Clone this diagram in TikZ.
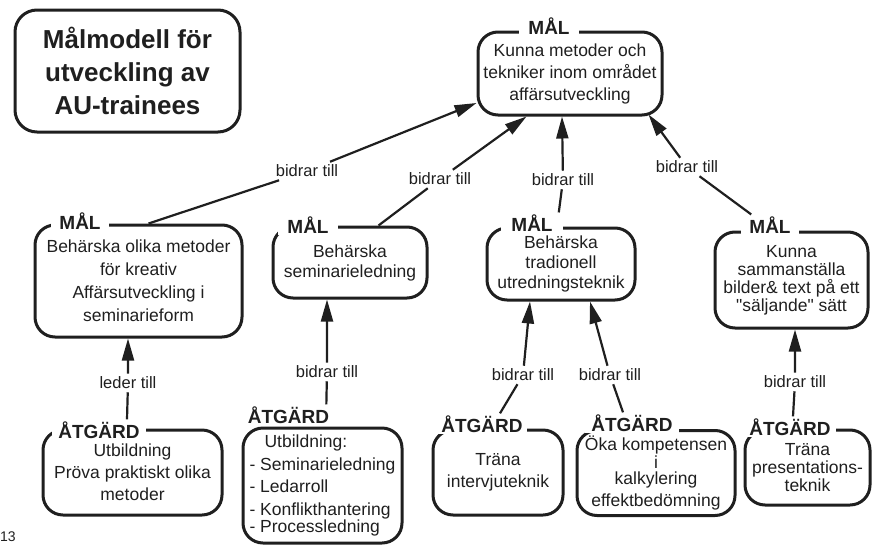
\documentclass[tikz,border=0pt]{standalone}
\usepackage{fontspec}
\setmainfont{Liberation Sans}
\usetikzlibrary{arrows.meta}
\definecolor{ink}{gray}{0.12}
\begin{document}
\begin{tikzpicture}[x=1pt,y=-1pt,
        goalbox/.style={draw=ink,line width=3pt,rounded corners=20pt,align=center,inner sep=0pt,text=ink,font=\fontsize{17.5}{22}\selectfont},
        tagtext/.style={fill=white,inner xsep=8pt,inner ysep=2pt,text=ink,font=\bfseries\fontsize{19}{19}\selectfont},
        reltext/.style={inner sep=3pt,text=ink,font=\fontsize{16.5}{18}\selectfont},
        linkarrow/.style={draw=ink,line width=2.2pt,-{Triangle[length=22pt,width=12pt]}}]
        \useasboundingbox (0,0) rectangle (872,546);
        \node [goalbox,rounded corners=22pt,minimum width=225pt,minimum height=122pt,font=\bfseries\fontsize{26}{33}\selectfont] (title) at (127.5,71) {Målmodell för\\utveckling av\\AU-trainees};
        \node [goalbox,minimum width=184pt,minimum height=83pt] (goal0) at (570,73.5) {Kunna metoder och\\tekniker inom området\\affärsutveckling};
        \node [tagtext,inner xsep=9pt] (goal0tag) at (549,26) {MÅL};
        \node [goalbox,minimum width=207pt,minimum height=112pt,font=\fontsize{17.5}{23}\selectfont] (goal1) at (138.5,281) {Behärska olika metoder\\för kreativ\\Affärsutveckling i\\seminarieform};
        \node [tagtext] (goal1tag) at (80,221) {MÅL};
        \node [goalbox,minimum width=154pt,minimum height=71pt,font=\fontsize{17.5}{20}\selectfont] (goal2) at (350,262.5) {Behärska\\seminarieledning};
        \node [tagtext,inner xsep=9pt] (goal2tag) at (308,225) {MÅL};
        \node [goalbox,minimum width=148pt,minimum height=72pt,font=\fontsize{17.5}{20}\selectfont] (goal3) at (561,264) {Behärska\\tradionell\\utredningsteknik};
        \node [tagtext,inner xsep=10pt] (goal3tag) at (532,223) {MÅL};
        \node [goalbox,minimum width=153pt,minimum height=96pt,font=\fontsize{17.5}{18}\selectfont] (goal4) at (791.5,280) {Kunna\\sammanställa\\bilder\& text på ett\\\textquotedbl säljande\textquotedbl{} sätt};
        \node [tagtext] (goal4tag) at (770,225) {MÅL};
        \node [goalbox,minimum width=179pt,minimum height=85pt] (act1) at (132.5,472.5) {Utbildning\\Pröva praktiskt olika\\metoder};
        \node [tagtext,inner xsep=6pt] (act1tag) at (99,430) {ÅTGÄRD};
        \node [goalbox,minimum width=159pt,minimum height=115pt,align=left,font=\fontsize{17.5}{22.5}\selectfont] (act2) at (322.5,485.5) {\hspace{15pt}Utbildning:\\- Seminarieledning\\- Ledarroll\\- Konflikthantering\\[-5pt]- Processledning};
        \node [tagtext,inner xsep=2pt] (act2tag) at (288.5,415) {ÅTGÄRD};
        \node [goalbox,minimum width=130pt,minimum height=85pt] (act3) at (498,472.5) {Träna\\intervjuteknik};
        \node [tagtext,inner xsep=4pt] (act3tag) at (482,424) {ÅTGÄRD};
        \node [goalbox,minimum width=158pt,minimum height=85pt,font=\fontsize{17.5}{16}\selectfont] (act4) at (656,473) {Öka kompetensen\\i\\kalkylering\\[5pt]effektbedömning};
        \node [tagtext,inner xsep=6pt] (act4tag) at (632,423) {ÅTGÄRD};
        \node [goalbox,minimum width=125pt,minimum height=75pt,font=\fontsize{17.5}{18}\selectfont] (act5) at (807.5,467.5) {Träna\\presentations-\\teknik};
        \node [tagtext,inner xsep=5pt] (act5tag) at (790,427) {ÅTGÄRD};
        \node [reltext] (rel1) at (307,171) {bidrar till};
        \node [reltext] (rel2) at (440,179) {bidrar till};
        \node [reltext] (rel3) at (563,180) {bidrar till};
        \node [reltext] (rel4) at (687,167) {bidrar till};
        \node [reltext] (rel5) at (128,383) {leder till};
        \node [reltext] (rel6) at (327,372) {bidrar till};
        \node [reltext] (rel7) at (523,375) {bidrar till};
        \node [reltext] (rel8) at (610,375) {bidrar till};
        \node [reltext] (rel9) at (795,382) {bidrar till};
        \draw [linkarrow] ([xshift=115pt]goal1.north west) -- (rel1) -- ([yshift=-29.5pt]goal0.west);
        \draw [linkarrow] ([xshift=-50pt]goal2.north east) -- (rel2) -- ([xshift=50pt]goal0.south west);
        \draw [linkarrow] ([xshift=-4pt]goal3tag.north east) -- (rel3) -- ([xshift=-8pt]goal0.south);
        \draw [linkarrow] ([xshift=10pt]goal4tag.north west) -- (rel4) -- ([xshift=-15pt,yshift=2pt]goal0.south east);
        \draw [linkarrow] ([xshift=28pt]act1tag.north) -- (rel5) -- ([xshift=-10.5pt]goal1.south);
        \draw [linkarrow] ([xshift=-5pt]act2tag.north east) -- (rel6) -- ([xshift=-23pt]goal2.south);
        \draw [linkarrow] ([xshift=18pt]act3tag.north) -- (rel7) -- ([xshift=-31pt]goal3.south);
        \draw [linkarrow] ([xshift=-9pt]act4tag.north) -- (rel8) -- ([xshift=29pt]goal3.south);
        \draw [linkarrow] ([xshift=3pt]act5tag.north) -- (rel9) -- ([xshift=3.5pt]goal4.south);
        \node [anchor=north west,inner sep=0pt,text=ink,font=\fontsize{14}{14}\selectfont] (pagenum) at (0,532) {13};
\end{tikzpicture}
\end{document}
